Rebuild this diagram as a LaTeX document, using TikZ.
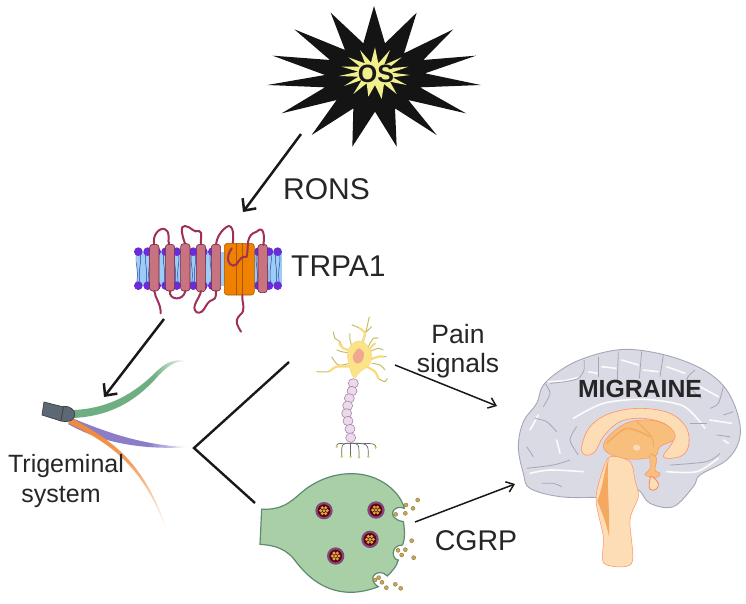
\documentclass[tikz,border=0pt]{standalone}
\usepackage{fontspec}
\setmainfont{Liberation Sans}
\usetikzlibrary{arrows.meta}
\definecolor{lipid}{HTML}{9CCDF6}
\definecolor{head}{HTML}{6A2BD9}
\definecolor{helix}{HTML}{C87480}
\definecolor{loopc}{HTML}{A03058}
\definecolor{chan}{HTML}{F08000}
\definecolor{bouton}{HTML}{A9CFA6}
\definecolor{boutonl}{HTML}{5E8A70}
\definecolor{gold}{HTML}{C8A858}
\definecolor{cortex}{HTML}{DADAE4}
\definecolor{cortexl}{HTML}{A6A6B8}
\definecolor{pale}{HTML}{FCDDB5}
\definecolor{mid}{HTML}{F8BE7C}
\definecolor{deep}{HTML}{F4A860}
\definecolor{spark}{HTML}{F2F08C}
\definecolor{slate}{HTML}{5C6873}
\definecolor{nerveg}{HTML}{6FAE82}
\definecolor{nervep}{HTML}{8B7DC8}
\definecolor{nerveo}{HTML}{F08A3C}
\definecolor{soma}{HTML}{FBE488}
\definecolor{nucl}{HTML}{F0A890}
\pgfdeclarehorizontalshading{greenfade}{100bp}{color(0bp)=(nerveg); color(60bp)=(nerveg); color(75bp)=(white); color(100bp)=(white)}
\pgfdeclarehorizontalshading{purplefade}{100bp}{color(0bp)=(nervep); color(58bp)=(nervep); color(75bp)=(white); color(100bp)=(white)}
\pgfdeclareverticalshading{orangefade}{100bp}{color(0bp)=(white); color(25bp)=(white); color(55bp)=(nerveo!80!white); color(70bp)=(nerveo); color(100bp)=(nerveo)}
\tikzset{
  thickarrow/.style={->,>={Straight Barb[length=9pt,width=17pt]},line width=2.5pt,black!90},
  thinarrow/.style={->,>={Straight Barb[length=7pt,width=11pt]},line width=1.5pt,black!90},
  branch/.style={line width=2.4pt,black!90},
  label/.style={inner sep=0pt,font=\fontsize{30}{33}\selectfont,text=black!85},
  helixbar/.style={draw=loopc!70!black,fill=helix,line width=.6pt,rounded corners=3pt},
  peptide/.style={draw=loopc,line width=2pt,line cap=round},
  dendrite/.style={draw=yellow!45!gray,line width=1pt},
  dendbase/.style={draw=soma!90!orange,line width=2.2pt,line cap=round},
  sulcus/.style={draw=cortexl,line width=.8pt},
  gyrus/.style={draw=white!90!cortex,line width=1.6pt,line cap=round}
}
\begin{document}
\begin{tikzpicture}[x=1pt,y=-1pt]
\useasboundingbox (0,0) rectangle (746,603);

% burst
\begin{scope}[shift={(260,0)},scale=1/3]
  \fill[black!92] (342,18)--(375,130)--(470,38)--(432,160)--(580,88)--(490,180)--(648,167)--(495,220)
    --(662,255)--(480,262)--(618,340)--(445,300)--(530,405)--(405,325)--(410,440)--(345,335)
    --(277,440)--(280,325)--(155,405)--(230,300)--(65,340)--(195,262)--(22,255)--(195,225)
    --(38,167)--(210,180)--(103,88)--(255,150)--(212,38)--(310,130)--cycle;
  \fill[spark] (345,142)--(355,190)--(390,150)--(372,195)--(425,172)--(385,205)--(445,200)--(395,218)
    --(450,225)--(398,232)--(440,255)--(390,245)--(410,282)--(372,252)--(365,297)--(345,255)
    --(325,290)--(320,250)--(280,282)--(305,240)--(252,258)--(295,230)--(237,228)--(295,215)
    --(245,200)--(300,200)--(265,172)--(315,190)--(300,150)--(333,188)--cycle;
\end{scope}
\node[inner sep=0pt,font=\fontsize{25}{25}\bfseries\selectfont,text=black!90] (os) at (376,74) {OS};

\coordinate (ronsa) at (301,134);
\coordinate (ronsb) at (243,212);
\draw[thickarrow] (ronsa) -- (ronsb);
\node[label,anchor=west] (rons) at (283,189) {RONS};

% channel in the membrane
\begin{scope}[shift={(125,215)},scale=1/3]
  \fill[lipid] (35,110) rectangle (470,212);
  \foreach \x in {40,68,95,122,155,205,235,262,400,432,458} {
    \draw[blue!45!black!70!lipid,line width=.5pt] (\x-5,115) .. controls (\x-12,140) and (\x+2,160) .. (\x-5,205);
    \draw[blue!45!black!70!lipid,line width=.5pt] (\x+5,115) .. controls (\x+12,140) and (\x-2,160) .. (\x+5,205);
    \fill[head] (\x,110) circle (13);
    \fill[head] (\x,212) circle (13);
  }
  \draw[peptide] (88,90) .. controls (80,60) and (105,35) .. (120,43) .. controls (140,55) and (125,75) .. (133,90);
  \draw[peptide] (181,88) .. controls (170,60) and (165,30) .. (180,33) .. controls (200,35) and (205,55) .. (222,48) .. controls (235,50) and (225,75) .. (228,90);
  \draw[peptide] (273,90) .. controls (275,60) and (300,35) .. (312,33) .. controls (330,35) and (325,85) .. (320,100);
  \foreach \x/\y/\h in {88/88/140,135/88/140,181/86/142,228/88/142,273/88/140,413/88/145}
    \draw[helixbar] (\x-14,\y) rectangle (\x+14,\y+\h);
  \fill[chan,draw=chan!70!black,line width=.6pt,rounded corners=3pt] (298,85) rectangle (388,240);
  \draw[chan!70!black,line width=.7pt] (335,83) -- (335,240) (352,83) -- (352,240);
  \draw[peptide] (320,100) .. controls (300,130) and (310,150) .. (325,152) .. controls (345,150) and (335,125) .. (365,125)
    .. controls (372,95) and (360,60) .. (395,50) .. controls (415,30) and (420,60) .. (415,90);
  \draw[peptide] (88,228) .. controls (90,250) and (108,265) .. (107,295);
  \draw[peptide] (135,228) .. controls (130,255) and (175,260) .. (181,228);
  \draw[peptide] (228,228) .. controls (225,250) and (195,275) .. (215,292) .. controls (240,300) and (240,260) .. (262,255) .. controls (275,250) and (272,240) .. (273,228);
  \draw[peptide] (352,240) .. controls (350,265) and (365,285) .. (345,300) .. controls (325,320) and (340,335) .. (348,350);
\end{scope}
\node[label,anchor=west] (trpa) at (291,266) {TRPA1};

\coordinate (chanout) at (164,319);
\coordinate (trigin) at (104,397);
\draw[thickarrow] (chanout) -- (trigin);

% ganglion and its three branches
\shade[shading=greenfade]
  (74,410) .. controls (115,408) and (140,388) .. (158,370) .. controls (168,361) and (178,358) .. (187,362)
  .. controls (178,360) and (170,364) .. (160,374) .. controls (140,397) and (115,416) .. (73,418) -- cycle;
\shade[shading=purplefade] (72,418) .. controls (115,436) and (150,446) .. (190,447) .. controls (150,450) and (105,445) .. (68,424) -- cycle;
\shade[shading=orangefade]
  (73,419) .. controls (110,440) and (145,460) .. (168,534) .. controls (145,470) and (115,445) .. (68,423) -- cycle;
\fill[slate,draw=black!75,line width=.7pt] (44,402) -- (63.5,407) -- (61,421) -- (42,415) -- cycle;
\fill[slate,draw=black!75,line width=.7pt] (63.5,406.5) .. controls (78,405) and (80,425) .. (61,421) -- cycle;
\node[inner sep=0pt,align=center,font=\fontsize{25}{30}\selectfont,text=black!85] (trig) at (66,481) {Trigeminal\\system\hspace*{10pt}};

\coordinate (fork) at (194,448);
\coordinate (forkup) at (289,362);
\coordinate (forkdn) at (255,503);
\draw[branch,line join=miter] (forkup) -- (fork) -- (forkdn);

% neuron
\begin{scope}[shift={(300,315)},scale=1/3]
  \foreach \pts in {
    {(165,110)(130,100)(120,80)(105,70)(100,50)},
    {(160,105)(150,75)(150,55)},
    {(185,85)(195,55)(170,35)(155,30)},
    {(190,80)(200,40)(208,5)},
    {(205,95)(220,70)(235,70)},
    {(197,52)(215,35)},
    {(208,110)(235,100)(250,105)},
    {(205,135)(235,125)(260,125)},
    {(200,155)(225,170)(235,190)(255,200)(262,190)},
    {(215,145)(240,150)(255,165)},
    {(150,145)(115,150)(95,125)},
    {(155,155)(110,155)(85,170)(50,170)},
    {(155,115)(125,110)(110,105)}}
    \draw[dendrite] plot[smooth] coordinates {\pts};
  \draw[dendbase] plot[smooth] coordinates {(165,110)(130,100)(118,85)};
  \draw[dendbase] plot[smooth] coordinates {(185,85)(195,55)(180,40)};
  \draw[dendbase] plot[smooth] coordinates {(205,135)(235,125)(250,125)};
  \draw[dendbase] plot[smooth] coordinates {(200,155)(225,170)(235,190)};
  \draw[dendbase] plot[smooth] coordinates {(155,155)(110,155)(90,168)};
  \draw[dendbase] plot[smooth] coordinates {(205,105)(225,85)};
  \foreach \x/\y in {160/205,156/228,148/250,143/272,140/295,144/318,150/342,152/368}
    \draw[draw=violet!35!gray!70!white,fill=violet!15!white,line width=.6pt] (\x,\y) ellipse (15 and 14);
  \fill[soma,draw=soma!85!orange,line width=.5pt] plot[smooth cycle,tension=.8] coordinates {(178,78)(210,105)(210,145)(180,170)(162,187)(148,150)(145,105)};
  \fill[nucl] plot[smooth cycle] coordinates {(175,100)(192,115)(185,140)(168,145)(158,125)};
  \foreach \x/\y in {110/395,125/425,152/425,177/427,205/425,227/398} {
    \draw[black!60,line width=.7pt] (152,385) .. controls (\x,385) and (\x,385) .. (\x,\y);
    \fill[yellow!60!gray] (\x,\y) circle (4);
  }
\end{scope}

\coordinate (paina) at (395,365);
\coordinate (painb) at (497,406);
\draw[thinarrow] (paina) -- (painb);
\node[inner sep=0pt,align=center,font=\fontsize{26.5}{29}\selectfont,text=black!85] (pain) at (458,351) {Pain\\signals};

% terminal with vesicles
\begin{scope}[shift={(250,465)},scale=1/3]
  \draw[fill=bouton,draw=boutonl,line width=1.2pt]
    (35,133) .. controls (110,135) and (130,100) .. (170,70) .. controls (220,35) and (270,25) .. (310,26)
    .. controls (390,28) and (450,80) .. (463,130) .. controls (430,115) and (405,160) .. (460,170)
    .. controls (465,200) and (465,220) .. (458,240) .. controls (420,240) and (425,285) .. (445,285)
    .. controls (440,305) and (425,320) .. (412,333) .. controls (385,305) and (345,340) .. (385,365)
    .. controls (360,375) and (330,382) .. (300,382) .. controls (210,380) and (160,320) .. (130,280)
    .. controls (100,245) and (60,240) .. (30,238) -- cycle;
  \foreach \x/\y in {222/137,378/135,360/223,257/273} {
    \fill[violet!45!gray] (\x,\y) circle (26);
    \fill[red!40!black] (\x,\y) circle (19);
    \foreach \a in {0,60,...,300}
      \fill[gold!90!yellow] (\x,\y) ++(\a:10) circle (5);
    \fill[gold!90!yellow] (\x,\y) circle (5);
  }
  \foreach \x/\y in {437/148,466/145,468/120,489/130,503/105,485/227,444/256,466/254,455/270,491/278,375/345,386/338,396/352,409/368,436/358,452/370}
    \draw[fill=gold,draw=gold!70!black,line width=.4pt] (\x,\y) circle (6);
\end{scope}

\coordinate (cgrpa) at (415,522);
\coordinate (cgrpb) at (515,484);
\draw[thinarrow] (cgrpa) -- (cgrpb);
\node[inner sep=0pt,font=\fontsize{28.5}{30}\selectfont,text=black!85] (cgrp) at (476,541) {CGRP};

% brain
\begin{scope}[shift={(510,340)},scale=1/3]
  \draw[fill=cortex,draw=cortexl,line width=.9pt] plot[smooth cycle,tension=.6] coordinates {
    (25,320)(40,245)(80,190)(100,135)(160,85)(230,52)(320,30)(400,32)(500,55)(590,95)(650,150)(685,230)
    (688,300)(650,360)(570,405)(550,440)(490,500)(420,490)(385,450)(350,470)(260,472)(150,470)(60,445)(40,400)};
  \foreach \pts in {
    {(115,125)(165,122)(205,112)},{(235,95)(262,100)},{(275,80)(318,85)},{(335,60)(385,75)},{(400,90)(445,95)},
    {(470,80)(525,100)},{(570,140)(625,170)},{(60,270)(85,225)},{(600,240)(665,250)},{(60,400)(120,390)(220,395)},
    {(470,395)(560,395)(625,355)},{(190,235)(280,190)(400,178)(520,198)(585,265)},{(140,300)(150,340)},{(640,300)(655,310)}}
    \draw[gyrus] plot[smooth] coordinates {\pts};
  \foreach \pts in {
    {(222,60)(222,90)(205,115)(165,125)(120,130)},{(265,50)(265,110)},{(325,35)(322,120)},
    {(395,35)(388,115)},{(460,45)(450,110)},{(555,90)(530,120)(560,165)(575,175)},
    {(105,130)(120,160)(100,200)},{(75,235)(110,245)(140,275)},{(50,320)(70,350)},
    {(180,360)(130,375)(50,385)},{(95,430)(130,430)(155,440)},{(640,140)(625,190)(600,205)},
    {(670,215)(640,225)},{(660,290)(620,285)},{(630,340)(590,365)(480,375)},
    {(200,260)(180,300)(205,345)},{(540,250)(590,250)}}
    \draw[sulcus] plot[smooth] coordinates {\pts};
  % callosum, thalamus, stem
  \draw[fill=pale,draw=red!45!orange!60!white,line width=.6pt] plot[smooth cycle,tension=.6] coordinates {
    (215,320)(240,260)(300,220)(390,205)(480,220)(530,265)(535,320)(510,350)(460,350)(490,300)(470,255)(400,235)(330,245)(280,290)(255,335)(225,345)};
  \draw[fill=mid,draw=red!45!orange!60!white,line width=.5pt] plot[smooth cycle,tension=.7] coordinates {
    (280,320)(330,260)(400,240)(470,255)(495,295)(450,320)(430,350)(340,355)};
  \draw[deep,line width=1.6pt] plot[smooth] coordinates {(290,310)(350,265)(420,290)} ;
  \draw[deep,line width=1pt] plot[smooth] coordinates {(380,245)(425,290)(430,320)};
  \fill[pale] (380,323) ellipse (11 and 9);
  \draw[fill=pale,draw=red!45!orange!60!white,line width=.5pt] plot[smooth cycle,tension=.5] coordinates {
    (300,350)(360,365)(375,420)(385,470)(360,540)(365,670)(282,670)(280,590)(258,480)(275,400)};
  \fill[deep] (262,482) .. controls (280,440) and (282,390) .. (296,355) .. controls (288,420) and (300,500) .. (297,590) .. controls (287,540) and (272,510) .. (262,482) -- cycle;
  \draw[fill=mid,draw=red!45!orange!60!white,line width=.5pt] plot[smooth cycle,tension=.6] coordinates {(420,345)(440,355)(435,390)(450,400)(440,412)(405,405)(420,385)};
  \draw[fill=pale,draw=red!50!orange!70!white,line width=.7pt] plot[smooth cycle,tension=.7] coordinates {(425,410)(445,430)(438,448)(420,448)(418,428)};
\end{scope}
\node[inner sep=0pt,font=\fontsize{24.8}{26}\bfseries\selectfont,text=black!85] (mig) at (640,389) {MIGRAINE};
\end{tikzpicture}
\end{document}
